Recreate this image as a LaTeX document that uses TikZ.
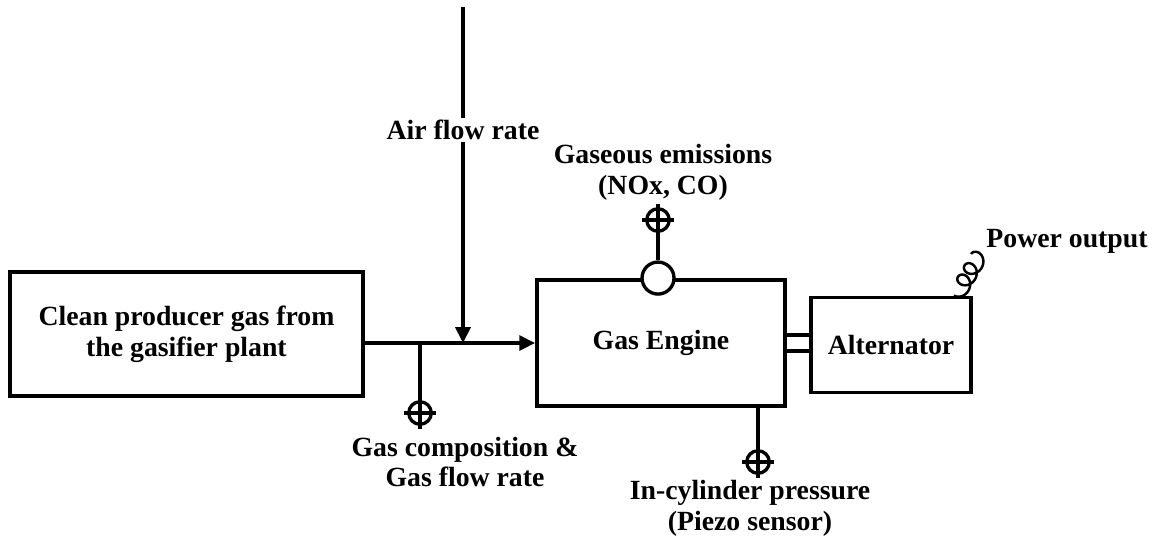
\documentclass[tikz,border=0pt]{standalone}
\usepackage{fontspec}
\setmainfont{Liberation Serif}
\usetikzlibrary{positioning,arrows.meta,calc}

\newcommand{\sensorcross}[1]{%
  \draw[line] ($(#1)+(-16,0)$) -- ($(#1)+(16,0)$);
  \draw[line] ($(#1)+(0,-16)$) -- ($(#1)+(0,16)$);
}

\begin{document}
\begin{tikzpicture}[
  x=0.2mm, y=-0.2mm,
  every node/.style={font=\fontsize{15.8}{17.5}\selectfont\bfseries, align=center},
  block/.style={rectangle,draw,line width=2.2pt,inner sep=2pt},
  sensor/.style={circle,draw,line width=1.9pt,minimum size=0.45cm,inner sep=0pt},
  port/.style={circle,draw,line width=1.9pt,minimum size=0.64cm,inner sep=0pt,fill=white},
  line/.style={-,line width=2pt},
  flow/.style={-{Triangle[length=9pt,width=8.5pt]},line width=2pt},
  label/.style={inner sep=1pt}
]
\useasboundingbox (0,0) rectangle (1162,540);

% Blocks
\node[block, minimum width=7.06cm, minimum height=2.48cm] (source) at (186.5,334) {Clean producer gas from\\the gasifier plant};
\node[block, minimum width=4.96cm, minimum height=2.52cm] (engine) at (661,343) {Gas Engine};
\node[block, minimum width=3.2cm, minimum height=1.9cm] (alt) at (891,345) {Alternator};

% Gas feed
\draw[flow] (source.east |- engine.west) -- (engine.west);

% Air
\coordinate (airtop) at (463,7);
\node[label] (air) at (463,130) {Air flow rate};
\draw[line] (airtop) -- (air.north);
\draw[flow] (air.south) -- (air.south |- engine.west);

% Gas composition
\node[sensor] (gcs) at (420,413) {};
\sensorcross{gcs}
\draw[line] (gcs.north |- engine.west) -- (gcs.north);
\node[label] (gcslabel) at (465,462) {Gas composition \&\\Gas flow rate};

% Emissions
\node[port] (exhaust) at (engine.north -| 658,0) {};
\node[sensor] (ems) at (658,220) {};
\sensorcross{ems}
\draw[line] (exhaust.north) -- (ems.south);
\node[label] (emslabel) at (663,172) {Gaseous emissions\\(NOx, CO)};

% In-cylinder pressure
\node[sensor] (pcs) at (758,462) {};
\sensorcross{pcs}
\draw[line] (pcs.north |- engine.south) -- (pcs.north);
\node[label] (pcslabel) at (750,508) {In-cylinder pressure\\(Piezo sensor)};

% Shaft
\draw[line] ([yshift=4.5pt]engine.east) -- ([yshift=4.5pt]engine.east -| alt.west);
\draw[line] ([yshift=-4.5pt]engine.east) -- ([yshift=-4.5pt]engine.east -| alt.west);

% Power output
\coordinate (coilstart) at ($(alt.north east)+(-19,0)$);
\draw[line width=1.4pt, shift={(coilstart)}, rotate=60]
  plot[domain=1.305:18.85, samples=160, variable=\t]
  ({2.1*\t - 8*sin(\t r) + 4.98}, {8*(1-cos(\t r)) - 5.9});
\node[label] (power) at (1067,241) {Power output};
\end{tikzpicture}
\end{document}
